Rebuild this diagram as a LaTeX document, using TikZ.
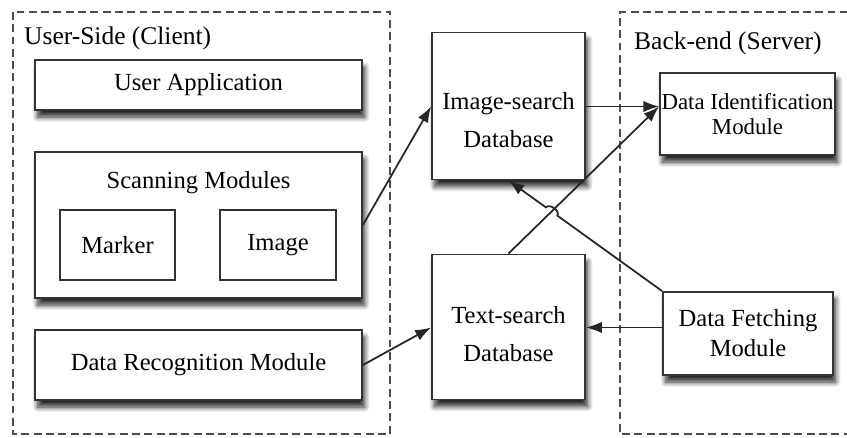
\documentclass[tikz,border=0pt]{standalone}
\usepackage{fontspec}
\setmainfont{Liberation Serif}
\usetikzlibrary{shapes,shapes.geometric}
\usetikzlibrary{arrows.meta}
\usetikzlibrary{calc}
\usetikzlibrary{shadows.blur}
\begin{document}
\begin{tikzpicture}[x=.02cm,y=-.02cm,
	box/.style={draw=black!80,line width=1.1pt,fill=white,inner sep=0pt,align=center,font=\fontsize{14}{17}\selectfont},
	shbox/.style={box,blur shadow={shadow xshift=1.5pt,shadow yshift=-4pt,shadow blur steps=8,shadow blur radius=3pt,shadow opacity=85}},
	dbase/.style={shbox,cylinder,shape border rotate=90,aspect=.35},
	dbtext/.style={align=center,font=\fontsize{14}{22}\selectfont},
	group/.style={draw=black!70,line width=.9pt,dash pattern=on 4.5pt off 2.5pt},
	conn/.style={-{Latex[length=9pt,width=6.5pt]},line width=1pt,black!85}]
	\useasboundingbox (0,0) rectangle (847,438);
	% groups
	\draw[group] (13,12) rectangle (390,434);
	\draw[group] (860,12)--(620,12)--(620,434)--(860,434);
	\node[anchor=west,font=\fontsize{14.5}{17}\selectfont] (client) at (18,38) {User-Side (Client)};
	\node[anchor=west,font=\fontsize{14.5}{17}\selectfont] (server) at (628,43) {Back-end (Server)};
	% client side
	\node[shbox,minimum width=6.54cm,minimum height=1cm] (usrapp) at (198.5,85) {User Application};
	\node[shbox,minimum width=6.54cm,minimum height=2.92cm] (scan) at (198.5,225) {};
	\node[font=\fontsize{14}{17}\selectfont] (scantitle) at (198.5,183) {Scanning Modules};
	\node[box,line width=.9pt,minimum width=2.3cm,minimum height=1.4cm] (marker) at (117.5,245) {Marker};
	\node[box,line width=.9pt,minimum width=2.32cm,minimum height=1.4cm] (image) at (278,245) {Image};
	\node[shbox,minimum width=6.54cm,minimum height=1.4cm] (recog) at (198.5,365) {Data Recognition Module};
	% databases
	\node[dbase,minimum width=3.06cm,minimum height=2.94cm] (imgdb) at (508.5,106.5) {};
	\node[dbtext] (imgdbtxt) at (508.5,120) {Image-search\\Database};
	\node[dbase,minimum width=3.06cm,minimum height=2.9cm] (txtdb) at (508.5,327.5) {};
	\node[dbtext] (txtdbtxt) at (508.5,334) {Text-search\\Database};
	% server side
	\node[shbox,font=\fontsize{13}{14.5}\selectfont,minimum width=3.5cm,minimum height=1.64cm] (dataid) at (747.5,114) {Data Identification\\Module};
	\node[shbox,font=\fontsize{14}{17}\selectfont,minimum width=3.4cm,minimum height=1.66cm] (fetch) at (748,333.5) {Data Fetching\\Module};
	% connectors
	\coordinate (idin) at (imgdb.east -| dataid.west);
	\coordinate (hop) at (intersection of fetch.north west--imgdb.south and txtdb.north--idin);
	\draw[conn] (scan.east)--(imgdb.west);
	\draw[conn] (recog.east)--(txtdb.west);
	\draw[conn] (imgdb.east)--(idin);
	\draw[conn] (txtdb.north)--(idin);
	\draw[conn] (fetch.west |- txtdb.east)--(txtdb.east);
	\draw[conn] (fetch.north west)--($(hop)!4pt!(fetch.north west)$) to[bend right=90] ($(hop)!4pt!(imgdb.south)$)--(imgdb.south);
\end{tikzpicture}
\end{document}
